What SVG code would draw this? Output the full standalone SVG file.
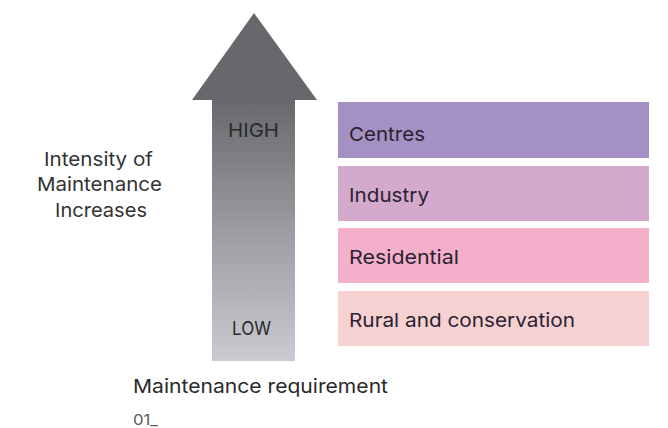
<svg xmlns="http://www.w3.org/2000/svg" width="668" height="428" viewBox="0 0 668 428">
  <defs>
    <linearGradient id="shaftGrad" x1="0" y1="0" x2="0" y2="1">
      <stop offset="0" stop-color="#67686c"/>
      <stop offset="0.5" stop-color="#9a9ca1"/>
      <stop offset="1" stop-color="#c9cbd0"/>
    </linearGradient>
    <style>
      text { font-family: Inter, "Liberation Sans", Arial, sans-serif; }
      .lbl { font-size: 19px; fill: #2b2230; }
      .side { font-size: 19px; fill: #333333; }
      .arrowlbl { font-size: 19px; fill: #2a2a2c; }
    </style>
  </defs>
  <rect width="668" height="428" fill="#ffffff"/>

  <!-- vertical arrow -->
  <g id="arrow">
    <rect x="212" y="98" width="83" height="263" fill="url(#shaftGrad)"/>
    <polygon points="254,13 317,100 192,100" fill="#67686c"/>
    <text class="arrowlbl" x="228" y="137" textLength="51" lengthAdjust="spacingAndGlyphs">HIGH</text>
    <text class="arrowlbl" x="232" y="335" textLength="39" lengthAdjust="spacingAndGlyphs">LOW</text>
  </g>

  <!-- side caption -->
  <g id="intensity">
    <text class="side" x="44" y="166" textLength="109" lengthAdjust="spacingAndGlyphs">Intensity of</text>
    <text class="side" x="37" y="191" textLength="125" lengthAdjust="spacingAndGlyphs">Maintenance</text>
    <text class="side" x="55" y="217" textLength="92" lengthAdjust="spacingAndGlyphs">Increases</text>
  </g>

  <!-- land use bands -->
  <g id="centres">
    <rect x="338" y="102" width="311" height="56" fill="#a491c3"/>
    <text class="lbl" x="349" y="141" textLength="76" lengthAdjust="spacingAndGlyphs">Centres</text>
  </g>
  <g id="industry">
    <rect x="338" y="166" width="311" height="55" fill="#d3a9cc"/>
    <text class="lbl" x="349" y="202" textLength="80" lengthAdjust="spacingAndGlyphs">Industry</text>
  </g>
  <g id="residential">
    <rect x="338" y="228" width="311" height="55" fill="#f4b0cb"/>
    <text class="lbl" x="349" y="264" textLength="110" lengthAdjust="spacingAndGlyphs">Residential</text>
  </g>
  <g id="rural">
    <rect x="338" y="291" width="311" height="55" fill="#f6d1d2"/>
    <text class="lbl" x="349" y="327" textLength="226" lengthAdjust="spacingAndGlyphs">Rural and conservation</text>
  </g>

  <g id="connectors"/>

  <!-- footer -->
  <text x="133" y="393" font-size="19" fill="#2a2a2a" textLength="255" lengthAdjust="spacingAndGlyphs">Maintenance requirement</text>
  <text x="133" y="425" font-size="15" fill="#5a5a5a" textLength="25" lengthAdjust="spacingAndGlyphs">01_</text>
</svg>
